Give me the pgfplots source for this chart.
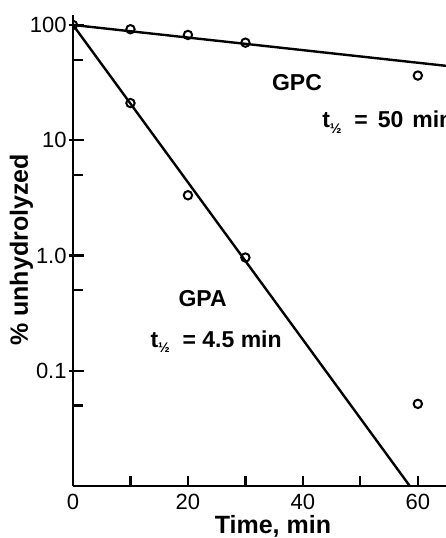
\documentclass[border=0pt]{standalone}
\usepackage{fontspec}
\setmainfont{Liberation Sans}
\usepackage{pgfplots}
\pgfplotsset{compat=1.18}
\newcommand\tickfont{\fontsize{11}{12}\selectfont}
\newcommand\lblfont{\fontsize{11.5}{13}\selectfont\bfseries}
\newcommand\half{\raisebox{-0.45ex}{\fontsize{7}{7}\selectfont ½}}
\begin{document}
\begin{tikzpicture}
\begin{axis}[
  scale only axis, width=186.5pt, height=235.5pt,
  at={(0,0)}, anchor=south west,
  xmin=0, xmax=64.9, ymin=0.01, ymax=122,
  ymode=log,
  axis lines=left,
  axis line style={-, line width=1.3pt, black},
  xtick={0,20,40,60},
  minor xtick={10,20,30,40,50,60},
  major x tick style={draw=none},
  ytick={0.1,1,10,100},
  yticklabels={0.1,1.0,10,100},
  minor ytick={0.05,0.5,5,50},
  tick align=inside,
  major tick length=7.8pt, minor tick length=4.8pt,
  major y tick style={xshift=-2.2pt},
  tick style={line width=1.1pt, black},
  /pgf/number format/assume math mode=true,
  xticklabel style={font=\tickfont, anchor=base, inner sep=0pt, yshift=-11.8pt},
  yticklabel style={font=\tickfont, anchor=east, inner sep=0pt, xshift=-3pt},
  xlabel={Time, min},
  ylabel={\% unhydrolyzed},
  xlabel style={font=\fontsize{12.5}{14}\selectfont\bfseries, at={(axis description cs:0.536,-0.1015)}, anchor=base, inner sep=0pt},
  ylabel style={font=\fontsize{12.5}{14}\selectfont\bfseries, at={(axis description cs:-0.121,0.501)}, anchor=base, inner sep=0pt, rotate=0},
  clip marker paths=true,
]
% fitted lines
\addplot[black, line width=1.2pt] coordinates {(0,100) (64.9,44.2)};
\addplot[black, line width=1.2pt] coordinates {(0,100) (58.6,0.01)};
% GPC data
\addplot[only marks, mark=o, mark size=2.1pt, mark options={line width=1pt, fill=white, black}] coordinates {
  (0,100) (10,91.8) (20,81.9) (30,70.2) (60,36.4)};
% GPA data
\addplot[only marks, mark=o, mark size=2.1pt, mark options={line width=1pt, fill=white, black}] coordinates {
  (10,21.0) (20,3.33) (30,0.96) (60,0.0516)};
\node[font=\lblfont, anchor=base, inner sep=0pt] at (axis cs:38.97,27.0) {GPC};
\node[font=\lblfont, anchor=base west, inner sep=0pt] at (axis cs:43.3,12.85) {t\half\ \ =\hspace{5pt}50\hspace{4.5pt}min};
\node[font=\lblfont, anchor=base, inner sep=0pt] at (axis cs:22.56,0.361) {GPA};
\node[font=\lblfont, anchor=base, inner sep=0pt] at (axis cs:24.9,0.16) {t\half\ \ =\ 4.5 min};
\end{axis}
\pgfresetboundingbox
\path[use as bounding box] (-36.5pt,-26pt) rectangle (186.5pt,243pt);
\end{tikzpicture}
\end{document}
